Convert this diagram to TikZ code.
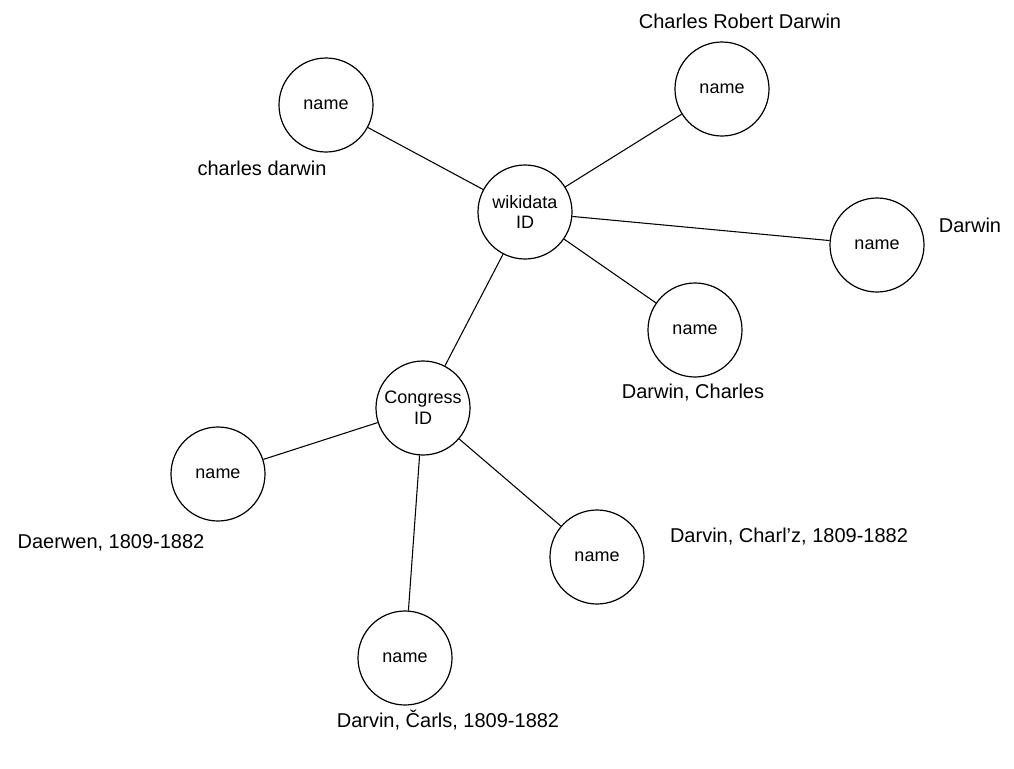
\documentclass[tikz,border=0pt]{standalone}
\usepackage{fontspec}
\setmainfont{Liberation Sans}
\begin{document}
\begin{tikzpicture}[x=0.75pt,y=-0.75pt,
  circ/.style={draw=black,circle,line width=0.9pt,minimum size=70.5pt,inner sep=0pt,align=center,font=\fontsize{13.5}{15.5}\selectfont},
  lbl/.style={font=\fontsize{15}{17}\selectfont,inner sep=0pt},
  edge/.style={draw=black,line width=0.8pt}]
\path[use as bounding box] (0,0) rectangle (1014,768);
\node[circ] (wd) at (525,212) {wikidata\\ID};
\node[circ] (lc) at (423,408) {Congress\\ID};
\node[circ] (n1) at (326,105) {name};
\node[circ] (n2) at (722,89) {name};
\node[circ] (n3) at (877,245) {name};
\node[circ] (n4) at (695,330) {name};
\node[circ] (n5) at (218,474) {name};
\node[circ] (n6) at (405,658) {name};
\node[circ] (n7) at (597,557) {name};
\node[lbl] (t2) at (740,21) {Charles Robert Darwin};
\node[lbl] (t1) at (262,168) {charles darwin};
\node[lbl] (t3) at (970,225) {Darwin};
\node[lbl] (t4) at (693,393) {Darwin, Charles};
\node[lbl] (t5) at (111,543) {Daerwen, 1809-1882};
\node[lbl] (t7) at (789,537) {Darvin, Charl'z, 1809-1882};
\node[lbl] (t6) at (448,720) {Darvin, Čarls, 1809-1882};
\draw[edge] (n1) -- (wd);
\draw[edge] (n2) -- (wd);
\draw[edge] (n3) -- (wd);
\draw[edge] (n4) -- (wd);
\draw[edge] (wd) -- (lc);
\draw[edge] (lc) -- (n5);
\draw[edge] (lc) -- (n6);
\draw[edge] (lc) -- (n7);
\end{tikzpicture}
\end{document}
